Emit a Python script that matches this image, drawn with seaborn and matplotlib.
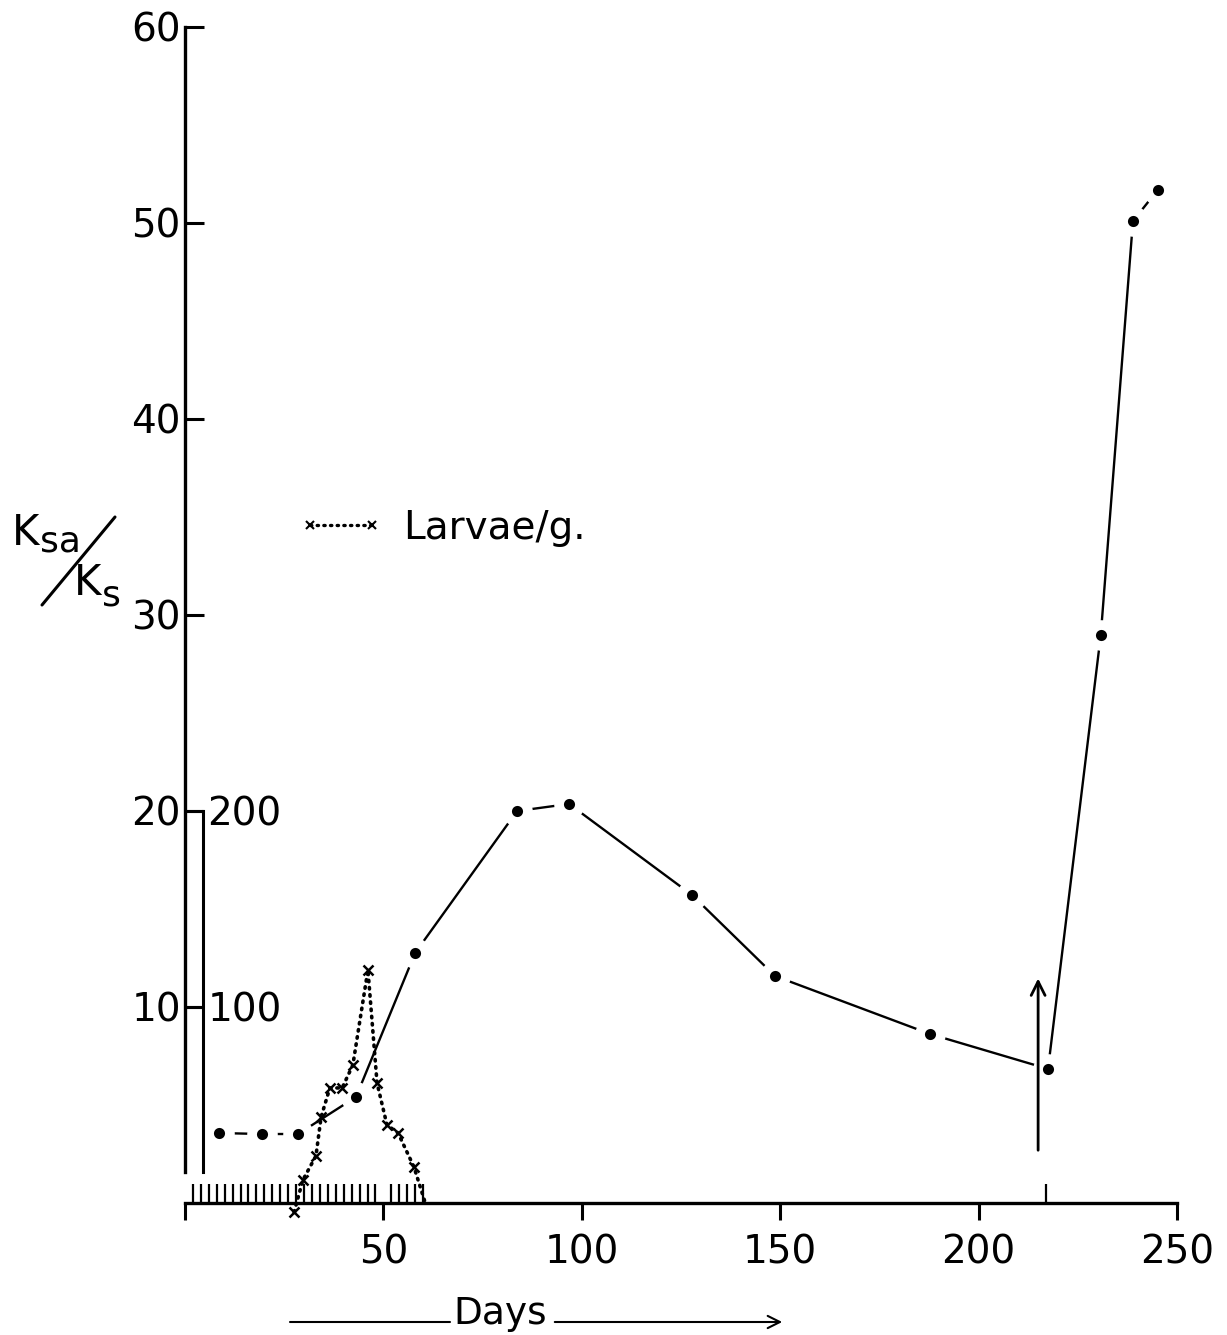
import matplotlib
matplotlib.use("Agg")
import matplotlib.pyplot as plt
from matplotlib.lines import Line2D
import seaborn as sns
import pandas as pd

# ---- data ----
days_ratio = [8.6, 19.4, 28.5, 43.1, 58.0, 83.7, 96.8, 127.8, 148.7, 187.8, 217.5, 230.8, 238.9, 245.2]
ratio = [3.57, 3.52, 3.52, 5.41, 12.76, 20.0, 20.36, 15.71, 11.58, 8.62, 6.84, 29.0, 50.1, 51.7]

days_larvae = [27.5, 29.7, 33.0, 34.3, 36.5, 39.6, 42.3, 46.1, 48.4, 50.9, 53.7, 57.7, 60.4]
larvae = [-4.6, 11.7, 24.0, 43.9, 58.7, 58.7, 70.4, 118.9, 61.2, 39.8, 35.7, 18.4, 1.0]

x_major = [0, 50, 100, 150, 200, 250]
x_major_labels = ["", "50", "100", "150", "200", "250"]
sampling_days = list(range(0, 62, 2)) + [217]
y_ticks = [10, 20, 30, 40, 50, 60]
larvae_ticks = [100, 200]
treatment_day = 215.0

df_ratio = pd.DataFrame({"day": days_ratio, "ratio": ratio})
df_larvae = pd.DataFrame({"day": days_larvae, "larvae": larvae})

sns.set_theme(style="white")
plt.rcParams["font.family"] = ["DejaVu Sans"]
for k in ["text.color", "axes.labelcolor", "xtick.color", "ytick.color"]:
    plt.rcParams[k] = "black"

W, H = 1227, 1335
fig = plt.figure(figsize=(W / 100, H / 100), dpi=100)
left, right = 185 / W, 1177 / W
bottom, top = (H - 1203) / H, (H - 27) / H
ax = fig.add_axes([left, bottom, right - left, top - bottom])
ax.set_xlim(0, 250)
ax.set_ylim(0, 60)

sns.lineplot(data=df_ratio, x="day", y="ratio", ax=ax, color="black", linewidth=1.7,
             marker="o", markersize=15, markerfacecolor="black",
             markeredgecolor="white", markeredgewidth=7, zorder=3)

ax2 = ax.twinx()
ax2.set_ylim(0, 600)
n = len(days_larvae)
DOT = (0, (0.4, 1.6))
sns.lineplot(data=df_larvae, x="day", y="larvae", ax=ax2, color="black", linewidth=2.6,
             linestyle=DOT, dash_capstyle="round", marker="x", markersize=6.5,
             markeredgewidth=1.8, markeredgecolor="black", markerfacecolor="black",
             markevery=list(range(n - 1)), zorder=4, clip_on=False)

# main axes styling
for s in ["top", "right"]:
    ax.spines[s].set_visible(False)
ax.spines["left"].set_bounds(1.6, 60)
ax.spines["bottom"].set_bounds(0, 250)
for s in ["left", "bottom"]:
    ax.spines[s].set_linewidth(2.4)
    ax.spines[s].set_color("black")
ax.set_yticks(y_ticks)
ax.set_yticklabels([str(v) for v in y_ticks])
ax.tick_params(axis="y", direction="in", length=14, width=2.2, labelsize=28, pad=3, colors="black", left=True)
ax.set_xticks(x_major)
ax.set_xticklabels(x_major_labels)
ax.set_xticks(sampling_days, minor=True)
ax.tick_params(axis="x", which="major", direction="out", length=12, width=2.2, labelsize=28, pad=10, bottom=True, colors="black")
ax.tick_params(axis="x", which="minor", direction="in", length=14, width=1.6, bottom=True, colors="black")
ax.set_xlabel("")
ax.set_ylabel("")

# secondary (larvae) axis
for s in ["top", "left", "bottom"]:
    ax2.spines[s].set_visible(False)
ax2.spines["right"].set_position(("data", 4.6))
ax2.spines["right"].set_bounds(16, 200)
ax2.spines["right"].set_linewidth(2.2)
ax2.spines["right"].set_color("black")
ax2.set_yticks(larvae_ticks)
ax2.set_yticklabels([str(v) for v in larvae_ticks])
ax2.tick_params(axis="y", direction="in", length=13, width=2.2, labelsize=28, pad=3, right=True, colors="black")
ax2.set_ylabel("")

# treatment arrow
ax.annotate("", xy=(treatment_day, 11.6), xytext=(treatment_day, 2.55),
            arrowprops=dict(arrowstyle="->", color="black", lw=2.0, mutation_scale=25))

# legend
h = Line2D([0], [0], color="black", linestyle=DOT, dash_capstyle="round", linewidth=2.4, marker="x",
           markersize=6, markeredgewidth=1.5)
leg = ax.legend(handles=[h], labels=["Larvae/g."], loc="center left",
                bbox_to_anchor=(298 / W, 1 - 528 / H), bbox_transform=fig.transFigure,
                frameon=False, fontsize=28, handlelength=2.2, handletextpad=0.5,
                numpoints=2, borderpad=0, borderaxespad=0)
for t in leg.get_texts():
    t.set_color("black")

# y label: K_sa / K_s
fig.text(12 / W, 1 - 545 / H, "K", fontsize=30, ha="left", va="baseline")
fig.text(40 / W, 1 - 552 / H, "sa", fontsize=26, ha="left", va="baseline")
fig.add_artist(Line2D([42 / W, 115 / W], [1 - 605 / H, 1 - 517 / H], color="black", lw=2.2,
                      transform=fig.transFigure))
fig.text(74 / W, 1 - 595 / H, "K", fontsize=30, ha="left", va="baseline")
fig.text(102 / W, 1 - 605 / H, "s", fontsize=26, ha="left", va="baseline")

# x label: ---- Days ---->
fig.text(500 / W, 1 - 1324 / H, "Days", fontsize=27, ha="center", va="baseline")
fig.add_artist(Line2D([290 / W, 450 / W], [1 - 1322 / H, 1 - 1322 / H], color="black", lw=1.5,
                      transform=fig.transFigure))
ax.annotate("", xy=(785 / W, 1 - 1322 / H), xytext=(552 / W, 1 - 1322 / H),
            xycoords="figure fraction", textcoords="figure fraction",
            arrowprops=dict(arrowstyle="->", color="black", lw=1.5, mutation_scale=22))

fig.savefig("out.png", dpi=100, facecolor="white")
